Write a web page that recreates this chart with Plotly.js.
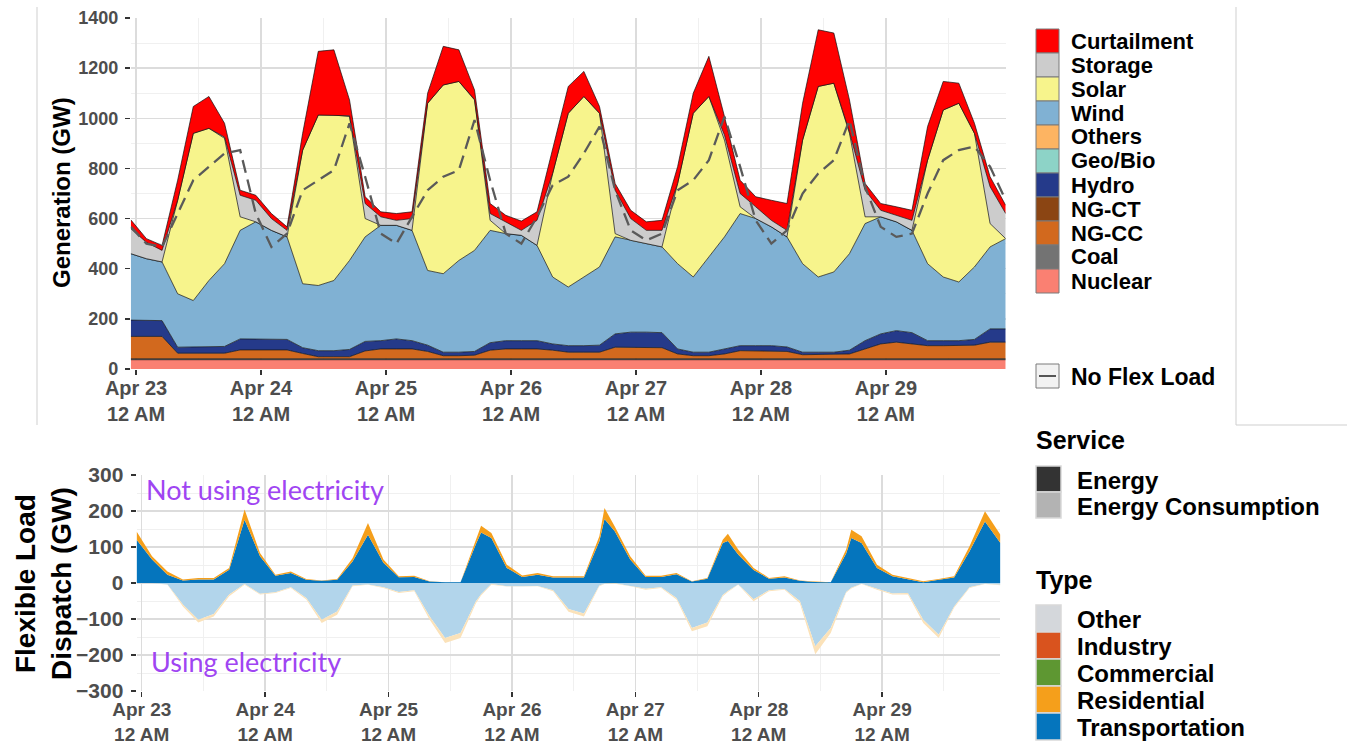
<!DOCTYPE html>
<html><head><meta charset="utf-8">
<script src="https://cdn.plot.ly/plotly-3.0.1.min.js"></script>
<style>html,body{margin:0;padding:0;background:#fff;overflow:hidden}#chart{width:1347px;height:748px}</style>
</head><body><div id="chart"></div>
<script>
// ---------- DATA (hours since Apr 23 12 AM) ----------
const hoursTop = [-1,2,5,8,11,14,17,20,23,26,29,32,35,38,41,44,47,50,53,56,59,62,65,68,71,74,77,80,83,86,89,92,95,98,101,104,107,110,113,116,119,122,125,128,131,134,137,140,143,146,149,152,155,158,161,164,167];
const nuclear = [37,37,37,37,37,37,37,37,37,37,37,37,37,37,37,37,37,37,37,37,37,37,37,37,37,37,37,37,37,37,37,37,37,37,37,37,37,37,37,37,37,37,37,37,37,37,37,37,37,37,37,37,37,37,37,37,37];
const coal = [4,4,4,4,4,4,4,4,4,4,4,4,4,4,4,4,4,4,4,4,4,4,4,4,4,4,4,4,4,4,4,4,4,4,4,4,4,4,4,4,4,4,4,4,4,4,4,4,4,4,4,4,4,4,4,4,4];
const ngcc = [89,89,89,22,22,22,22,35,35,35,35,21,8,8,8,31,39,39,39,29,12,12,14,34,39,39,39,34,26,26,26,46,46,46,44,19,12,12,19,32,32,32,29,16,16,16,19,39,59,66,59,52,52,52,54,66,66];
const hydro = [65,65,63,24,24,24,27,44,44,44,42,23,24,24,29,38,33,40,33,25,14,14,15,30,33,33,33,25,26,26,28,53,60,60,60,20,14,14,20,20,20,20,18,10,10,10,15,33,40,46,45,20,20,20,23,53,53];
const wind = [265,245,234,213,186,266,330,433,467,433,409,255,260,280,355,417,460,453,440,298,313,366,403,448,427,420,380,267,234,274,312,387,366,353,342,340,300,380,447,527,507,474,439,353,300,320,385,467,467,434,408,307,254,234,289,327,360];
const solar = [0,0,0,373,667,607,500,54,0,0,0,533,680,660,574,73,0,0,0,667,753,714,600,40,0,0,0,413,693,720,613,13,0,0,0,320,653,640,386,27,0,0,0,493,760,753,480,27,0,0,0,413,666,713,533,93,0];
const storage = [100,65,46,0,0,0,5,86,86,47,26,0,0,0,3,60,34,20,47,0,0,0,2,27,47,20,100,0,0,0,0,173,87,53,66,0,0,0,20,53,47,26,26,0,0,0,5,106,26,26,40,0,0,0,0,147,100];
const curtailment = [35,15,20,80,107,127,55,20,20,20,14,67,254,260,63,27,20,27,27,40,154,126,38,40,26,37,34,93,107,100,27,27,33,34,40,67,80,160,74,53,40,80,107,147,226,200,128,27,27,34,40,134,114,80,40,40,33];
const noFlexLoad = [567,500,487,620,753,807,860,873,620,487,540,713,753,793,980,767,540,500,607,713,767,793,993,753,540,500,607,733,767,860,967,713,553,513,540,713,753,833,1007,807,593,500,553,700,780,833,993,727,567,527,540,700,833,873,887,807,673];

const hoursFlex = [-1,2,5,8,11,14,17,20,23,26,29,32,35,38,41,44,47,50,53,56,59,62,65,66,68,71,74,77,80,83,86,89,90,92,95,98,101,104,107,110,113,114,116,119,122,125,128,131,134,137,138,140,143,146,149,152,155,158,161,164,167];
const transportationDispatch = [120,65,23,7,10,10,37,176,74,20,28,9,6,9,60,134,56,16,17,4,2,2,108,140,125,42,17,23,15,15,15,116,178,144,65,17,17,24,4,12,111,117,79,36,12,15,6,3,2,82,125,111,42,19,11,2,9,15,88,171,111];
const residentialDispatch = [23,9,9,3,4,4,5,28,9,3,4,2,1,2,9,33,9,3,3,1,0,0,12,19,14,9,4,5,4,4,4,14,30,13,9,3,3,4,1,2,9,20,14,6,2,4,1,1,0,11,23,19,9,4,3,3,2,4,14,28,23];
const transportationUse = [0,0,-4,-60,-102,-86,-32,-3,-30,-26,-12,-42,-102,-79,-7,-4,-12,-25,-20,-93,-153,-139,-51,-31,-3,-9,-9,-8,-20,-72,-85,-7,-2,-1,-8,-16,-12,-42,-125,-110,-33,-22,-4,-45,-20,-17,-50,-176,-125,-25,-13,-2,-16,-29,-28,-102,-144,-65,-12,-2,-5];
const residentialUse = [0,0,-1,-5,-8,-7,-5,-2,-2,-2,-2,-4,-9,-9,-2,-1,-2,-3,-3,-9,-14,-14,-5,-4,-2,-1,-1,-1,-3,-8,-8,-2,-1,-1,-1,-3,-2,-4,-9,-10,-4,-3,-1,-6,-3,-2,-6,-22,-14,-2,-2,-1,-3,-3,-4,-9,-9,-4,-2,-1,-1];

const dayTickHours = [0,24,48,72,96,120,144];
const dayTickLabels = ['Apr 23<br>12 AM','Apr 24<br>12 AM','Apr 25<br>12 AM','Apr 26<br>12 AM','Apr 27<br>12 AM','Apr 28<br>12 AM','Apr 29<br>12 AM'];
const noonHours = [12,36,60,84,108,132,156];

const genLegendLabels = ['Curtailment','Storage','Solar','Wind','Others','Geo/Bio','Hydro','NG-CT','NG-CC','Coal','Nuclear'];
const genLegendColors = ['#ff0000','#cccccc','#f7f48c','#80b1d3','#fdb462','#8dd3c7','#253a8a','#8b4513','#d2691e','#737373','#fa8072'];
const serviceLabels = ['Energy','Energy Consumption'];
const serviceColors = ['#333333','#b3b3b3'];
const typeLabels = ['Other','Industry','Commercial','Residential','Transportation'];
const typeColors = ['#d4d7db','#d9531e','#5e9732','#f59f1b','#0575bd'];

// ---------- helpers ----------
const W = 1347, H = 748;
const px = v => v / W;
const py = v => 1 - v / H;
const FONT = 'Liberation Sans, Arial, sans-serif';

const genColor = {Nuclear:'#fa8072',Coal:'#737373','NG-CC':'#d2691e',Hydro:'#253a8a',Wind:'#80b1d3',Solar:'#f7f48c',Storage:'#cccccc',Curtailment:'#ff0000'};
const genSeries = [['Nuclear',nuclear],['Coal',coal],['NG-CC',ngcc],['Hydro',hydro],['Wind',wind],['Solar',solar],['Storage',storage],['Curtailment',curtailment]];

const traces = [];
genSeries.forEach(([name, vals]) => {
  traces.push({x: hoursTop, y: vals, name, type:'scatter', mode:'lines', stackgroup:'gen',
    line:{color:'#111111', width:0.7}, fillcolor: genColor[name], hoverinfo:'skip', showlegend:false, xaxis:'x', yaxis:'y'});
});
traces.push({x: hoursTop, y: noFlexLoad, name:'No Flex Load', type:'scatter', mode:'lines',
  line:{color:'#5a5a5a', width:2.3, dash:'13px,7px'}, hoverinfo:'skip', showlegend:false, xaxis:'x', yaxis:'y'});

const flexTraces = [
  ['Transportation', transportationDispatch, 'pos', '#0575bd'],
  ['Residential', residentialDispatch, 'pos', '#f59f1b'],
  ['Transportation use', transportationUse, 'neg', '#b2d5eb'],
  ['Residential use', residentialUse, 'neg', '#fbe2b9']
];
flexTraces.forEach(([name, vals, grp, col]) => {
  traces.push({x: hoursFlex, y: vals, name, type:'scatter', mode:'lines', stackgroup:grp,
    line:{width:0, color:col}, fillcolor:col, hoverinfo:'skip', showlegend:false, xaxis:'x2', yaxis:'y2'});
});

const tickFont = size => ({family:FONT, size, color:'#4d4d4d', weight:'bold'});
const majorGrid = '#dcdcdc', minorGrid = '#f0f0f0';

const layout = {
  width: W, height: H, margin:{l:0,r:0,t:0,b:0}, paper_bgcolor:'#ffffff', plot_bgcolor:'#ffffff',
  showlegend:false,
  xaxis:{domain:[px(130.8), px(1005.7)], range:[-1,167], tickmode:'array', tickvals:dayTickHours, ticktext:dayTickLabels,
    tickfont:tickFont(20), ticks:'outside', ticklen:5, tickwidth:1.5, tickcolor:'#333', showgrid:true, gridcolor:majorGrid, gridwidth:1.5,
    minor:{tickmode:'array', tickvals:noonHours, showgrid:true, gridcolor:minorGrid, gridwidth:1, ticks:''}, zeroline:false, showline:false, anchor:'y', ticklabelstandoff:-4, fixedrange:true},
  yaxis:{domain:[py(369), py(18)], range:[0,1400], tickmode:'linear', tick0:0, dtick:200, tickfont:tickFont(18), ticks:'outside', ticklen:5, tickwidth:1.5, tickcolor:'#333',
    showgrid:true, gridcolor:majorGrid, gridwidth:1.5, minor:{dtick:100, showgrid:true, gridcolor:minorGrid, gridwidth:1, ticks:''}, zeroline:false, showline:false, anchor:'x', ticklabelstandoff:3, fixedrange:true},
  xaxis2:{domain:[px(136.6), px(1000.4)], range:[-1,167], tickmode:'array', tickvals:dayTickHours, ticktext:dayTickLabels,
    tickfont:tickFont(19), ticks:'outside', ticklen:5, tickwidth:1.5, tickcolor:'#333', showgrid:true, gridcolor:majorGrid, gridwidth:1.5,
    minor:{tickmode:'array', tickvals:noonHours, showgrid:true, gridcolor:minorGrid, gridwidth:1, ticks:''}, zeroline:false, showline:false, anchor:'y2', ticklabelstandoff:-4, fixedrange:true},
  yaxis2:{domain:[py(691), py(475)], range:[-300,300], tickmode:'linear', tick0:0, dtick:100, tickfont:tickFont(21), ticks:'outside', ticklen:5, tickwidth:1.5, tickcolor:'#333',
    showgrid:true, gridcolor:majorGrid, gridwidth:1.5, minor:{dtick:50, showgrid:true, gridcolor:minorGrid, gridwidth:1, ticks:''}, zeroline:false, showline:false, anchor:'x2', ticklabelstandoff:3, fixedrange:true},
  shapes:[], annotations:[]
};

const S = layout.shapes, A = layout.annotations;
// frame lines of the original figure
[[37,7,37,425],[1236,7,1236,425],[1236,425,1347,425]].forEach(([x0,y0,x1,y1]) =>
  S.push({type:'line', xref:'paper', yref:'paper', x0:px(x0), y0:py(y0), x1:px(x1), y1:py(y1), line:{color:'#cfcfcf', width:1}}));

// axis titles
A.push({xref:'paper', yref:'paper', x:px(61), y:py(193), text:'<b>Generation (GW)</b>', textangle:-90, showarrow:false,
  xanchor:'center', yanchor:'middle', font:{family:FONT, size:24, color:'#000'}});
A.push({xref:'paper', yref:'paper', x:px(43), y:py(583), text:'<b>Flexible Load<br>Dispatch (GW)</b>', textangle:-90, showarrow:false,
  xanchor:'center', yanchor:'middle', font:{family:FONT, size:28, color:'#000'}});

// purple notes
A.push({xref:'paper', yref:'paper', x:px(144), y:py(490), text:'Not using electricity', showarrow:false, xanchor:'left', yanchor:'middle',
  font:{family:'Lato, Open Sans, sans-serif', size:27, color:'#9f45f2'}});
A.push({xref:'paper', yref:'paper', x:px(149), y:py(661), text:'Using electricity', showarrow:false, xanchor:'left', yanchor:'middle',
  font:{family:'Lato, Open Sans, sans-serif', size:27, color:'#9f45f2'}});

// generation legend
genLegendLabels.forEach((lab, i) => {
  const y0 = 29 + 24*i;
  S.push({type:'rect', xref:'paper', yref:'paper', x0:px(1036), x1:px(1059), y0:py(y0), y1:py(y0+24), fillcolor:genLegendColors[i], line:{color:'#7a7a7a', width:1}});
  A.push({xref:'paper', yref:'paper', x:px(1069), y:py(y0+12), text:'<b>'+lab+'</b>', showarrow:false, xanchor:'left', yanchor:'middle', font:{family:FONT, size:22, color:'#000'}});
});
// No Flex Load key
S.push({type:'rect', xref:'paper', yref:'paper', x0:px(1036), x1:px(1059), y0:py(364), y1:py(388), fillcolor:'#f2f2f2', line:{color:'#7a7a7a', width:1}});
S.push({type:'line', xref:'paper', yref:'paper', x0:px(1039), x1:px(1056), y0:py(376), y1:py(376), line:{color:'#555', width:2}});
A.push({xref:'paper', yref:'paper', x:px(1069), y:py(377), text:'<b>No Flex Load</b>', showarrow:false, xanchor:'left', yanchor:'middle', font:{family:FONT, size:23, color:'#000'}});

// Service legend
A.push({xref:'paper', yref:'paper', x:px(1034), y:py(440), text:'<b>Service</b>', showarrow:false, xanchor:'left', yanchor:'middle', font:{family:FONT, size:25, color:'#000'}});
serviceLabels.forEach((lab, i) => {
  const y0 = 466 + 26*i;
  S.push({type:'rect', xref:'paper', yref:'paper', x0:px(1036), x1:px(1061), y0:py(y0), y1:py(y0+26), fillcolor:serviceColors[i], line:{color:'#d9d9d9', width:1.5}});
  A.push({xref:'paper', yref:'paper', x:px(1075), y:py(y0+14), text:'<b>'+lab+'</b>', showarrow:false, xanchor:'left', yanchor:'middle', font:{family:FONT, size:24, color:'#000'}});
});
// Type legend
A.push({xref:'paper', yref:'paper', x:px(1034), y:py(580), text:'<b>Type</b>', showarrow:false, xanchor:'left', yanchor:'middle', font:{family:FONT, size:25, color:'#000'}});
typeLabels.forEach((lab, i) => {
  const y0 = 605 + 27*i;
  S.push({type:'rect', xref:'paper', yref:'paper', x0:px(1036), x1:px(1061), y0:py(y0), y1:py(y0+27), fillcolor:typeColors[i], line:{color:'#d9d9d9', width:1.5}});
  A.push({xref:'paper', yref:'paper', x:px(1075), y:py(y0+14), text:'<b>'+lab+'</b>', showarrow:false, xanchor:'left', yanchor:'middle', font:{family:FONT, size:24, color:'#000'}});
});

Plotly.newPlot('chart', traces, layout, {staticPlot:true, displayModeBar:false});
</script>
</body></html>
